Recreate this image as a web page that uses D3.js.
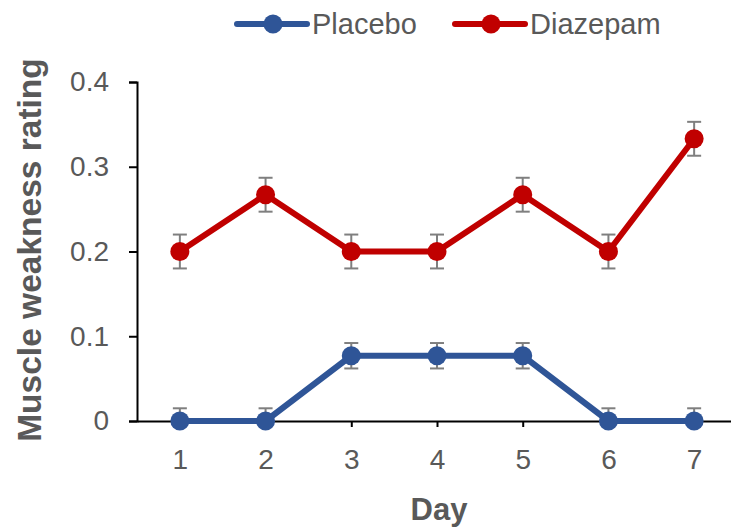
<!DOCTYPE html>
<html>
<head>
<meta charset="utf-8">
<script src="https://cdn.jsdelivr.net/npm/d3@7"></script>
<style>
  body { margin: 0; background: #fff; }
  svg text { font-family: "Liberation Sans", Arial, sans-serif; }
</style>
</head>
<body>
<div id="chart"></div>
<script>
var days = [1, 2, 3, 4, 5, 6, 7]
var placebo = [0, 0, 0.077, 0.077, 0.077, 0, 0]
var placeboErr = [0.015, 0.015, 0.015, 0.015, 0.015, 0.015, 0.015]
var diazepam = [0.2, 0.267, 0.2, 0.2, 0.267, 0.2, 0.333]
var diazepamErr = [0.02, 0.02, 0.02, 0.02, 0.02, 0.02, 0.02]
var yTicks = [0, 0.1, 0.2, 0.3, 0.4]
var seriesNames = ["Placebo", "Diazepam"]
var seriesColors = ["#2F5597", "#C00000"]

var width = 731, height = 530
var margin = { top: 82, right: 0, bottom: 109, left: 137 }

var svg = d3.select("#chart").append("svg")
    .attr("width", width)
    .attr("height", height)

var xScale = d3.scaleLinear().domain([0.5, 7.5]).range([margin.left, margin.left + 600])
var yScale = d3.scaleLinear().domain([0, 0.4]).range([height - margin.bottom, margin.top])

// y axis
var yAxis = svg.append("g")
    .attr("transform", "translate(" + margin.left + ",0)")
    .call(d3.axisLeft(yScale).tickValues(yTicks).tickSize(8).tickPadding(20)
        .tickFormat(function(d) { return d === 0 ? "0" : d3.format(".1f")(d) }))
yAxis.select(".domain").attr("stroke", "#000").attr("stroke-width", 2)
yAxis.selectAll(".tick line").attr("stroke", "#000").attr("stroke-width", 2)
yAxis.selectAll(".tick text").attr("fill", "#595959").attr("font-size", "28px")

// x axis
var xAxis = svg.append("g")
    .attr("transform", "translate(0," + yScale(0) + ")")
    .call(d3.axisBottom(xScale).tickValues(days).tickSize(6).tickPadding(22).tickSizeOuter(0)
        .tickFormat(d3.format("d")))
xAxis.select(".domain").attr("stroke", "#000").attr("stroke-width", 2)
xAxis.selectAll(".tick line").attr("stroke", "#000").attr("stroke-width", 2)
xAxis.selectAll(".tick text").attr("fill", "#595959").attr("font-size", "28px")

// axis titles
svg.append("text")
    .attr("transform", "translate(41,250) rotate(-90)")
    .attr("text-anchor", "middle")
    .attr("font-size", "33.5px")
    .attr("font-weight", "bold")
    .attr("fill", "#595959")
    .text("Muscle weakness rating")

svg.append("text")
    .attr("x", xScale(4) + 2)
    .attr("y", 520)
    .attr("text-anchor", "middle")
    .attr("font-size", "31px")
    .attr("font-weight", "bold")
    .attr("fill", "#595959")
    .text("Day")

var allSeries = [
    { vals: placebo, errs: placeboErr },
    { vals: diazepam, errs: diazepamErr }
]

var line = d3.line()
    .x(function(d, i) { return xScale(days[i]) })
    .y(function(d) { return yScale(d) })

allSeries.forEach(function(s, k) {
    var color = seriesColors[k]
    var g = svg.append("g")

    // error bars (nothing drawn below the x axis)
    s.vals.forEach(function(v, i) {
        var x = xScale(days[i])
        var y1 = yScale(v + s.errs[i])
        g.append("line").attr("x1", x).attr("x2", x).attr("y1", y1)
            .attr("y2", yScale(Math.max(0, v - s.errs[i])))
            .attr("stroke", "#7F7F7F").attr("stroke-width", 2)
        g.append("line").attr("x1", x - 7).attr("x2", x + 7).attr("y1", y1).attr("y2", y1)
            .attr("stroke", "#7F7F7F").attr("stroke-width", 2)
        if (v - s.errs[i] >= 0) {
            var y2 = yScale(v - s.errs[i])
            g.append("line").attr("x1", x - 7).attr("x2", x + 7).attr("y1", y2).attr("y2", y2)
                .attr("stroke", "#7F7F7F").attr("stroke-width", 2)
        }
    })

    g.append("path")
        .datum(s.vals)
        .attr("d", line)
        .attr("fill", "none")
        .attr("stroke", color)
        .attr("stroke-width", 6)
        .attr("stroke-linejoin", "round")

    g.selectAll("circle")
        .data(s.vals)
        .enter().append("circle")
        .attr("cx", function(d, i) { return xScale(days[i]) })
        .attr("cy", function(d) { return yScale(d) })
        .attr("r", 9.5)
        .attr("fill", color)
})

// legend
var legendX = [237, 455]
seriesNames.forEach(function(name, k) {
    var lg = svg.append("g").attr("transform", "translate(" + legendX[k] + ",24)")
    lg.append("line").attr("x1", 0).attr("x2", 70).attr("y1", 0).attr("y2", 0)
        .attr("stroke", seriesColors[k]).attr("stroke-width", 6).attr("stroke-linecap", "round")
    lg.append("circle").attr("cx", 36).attr("cy", 0).attr("r", 9.5).attr("fill", seriesColors[k])
    lg.append("text").attr("x", 75).attr("y", 10)
        .attr("font-size", "29px").attr("fill", "#595959")
        .text(name)
})
</script>
</body>
</html>
